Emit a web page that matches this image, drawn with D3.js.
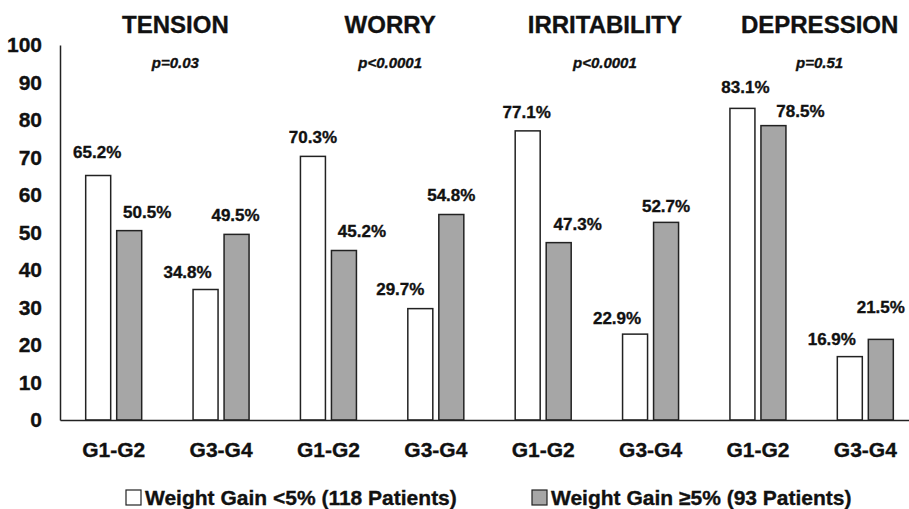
<!DOCTYPE html>
<html lang="en">
<head>
    <meta charset="UTF-8">
    <title>Weight gain vs symptoms</title>
    <script src="https://d3js.org/d3.v7.min.js"></script>
    <style>
        body { margin: 0; background: #fff; }
        svg { font-family: "Liberation Sans", Arial, sans-serif; font-weight: bold; }
        svg text { stroke: #111; stroke-width: 0.35; }
        .domain { stroke: #222; stroke-width: 1.5; }
    </style>
</head>
<body>
<svg width="909" height="509"></svg>
<script>
    // data
    const symptoms = ["TENSION", "WORRY", "IRRITABILITY", "DEPRESSION"];
    const grades = ["G1-G2", "G3-G4"];
    const pValues = ["p=0.03", "p<0.0001", "p<0.0001", "p=0.51"];
    const seriesNames = ["Weight Gain <5% (118 Patients)", "Weight Gain \u22655% (93 Patients)"];
    // order: TENSION G1-G2, G3-G4, WORRY G1-G2, G3-G4, ...
    const gainUnder5 = [65.2, 34.8, 70.3, 29.7, 77.1, 22.9, 83.1, 16.9];
    const gainOver5 = [50.5, 49.5, 45.2, 54.8, 47.3, 52.7, 78.5, 21.5];
    const yTicks = [0, 10, 20, 30, 40, 50, 60, 70, 80, 90, 100];

    const fills = ["#ffffff", "#a6a6a6"];
    // hand-placed value labels in the original (px, relative to bar centre / top)
    const labelNudge = [
        [[-1, -23], [-18, -17], [0, -19], [-20, -20], [-1, -19], [-18, -16], [3, -21], [-18, -18]],
        [[18, -19], [-1, -19], [18, -19], [0, -19], [19, -19], [0, -16], [27, -15], [0, -32]]
    ];

    const svg = d3.select("svg");

    const keys = [];
    symptoms.forEach(s => grades.forEach(g => keys.push(s + "|" + g)));

    const x = d3.scaleBand().domain(keys).range([60, 919]).padding(0);
    const xInner = d3.scaleBand().domain([0, 1]).range([0, 56]).paddingInner(0.194);
    const y = d3.scaleLinear().domain([0, 100]).range([420, 45]);

    const series = [gainUnder5, gainOver5];

    // bars
    series.forEach((vals, si) => {
        const g = svg.append("g");
        g.selectAll("rect")
            .data(vals)
            .enter()
            .append("rect")
            .attr("x", (d, i) => x(keys[i]) + x.bandwidth() / 2 - 28 + xInner(si))
            .attr("y", d => y(d))
            .attr("width", xInner.bandwidth())
            .attr("height", d => y(0) - y(d))
            .attr("fill", fills[si])
            .attr("stroke", "#222")
            .attr("stroke-width", 1.5);

        g.selectAll("text")
            .data(vals)
            .enter()
            .append("text")
            .attr("x", (d, i) => x(keys[i]) + x.bandwidth() / 2 - 28 + xInner(si) + xInner.bandwidth() / 2 + labelNudge[si][i][0])
            .attr("y", (d, i) => y(d) + labelNudge[si][i][1])
            .attr("dy", "0.35em")
            .attr("text-anchor", "middle")
            .attr("font-size", 17)
            .attr("fill", "#111")
            .text(d => d.toFixed(1) + "%");
    });

    // axes
    const yAxis = svg.append("g")
        .attr("transform", "translate(60,0)")
        .call(d3.axisLeft(y).tickValues(yTicks).tickSize(0).tickPadding(18));
    yAxis.selectAll("text").attr("font-size", 21).attr("fill", "#111").attr("font-family", "Liberation Sans, Arial").attr("font-weight", "bold");

    const xAxis = svg.append("g")
        .attr("transform", "translate(0,420)")
        .call(d3.axisBottom(x).tickSize(0).tickPadding(22).tickFormat(k => k.split("|")[1]));
    xAxis.selectAll("text").attr("font-size", 21).attr("fill", "#111").attr("font-weight", "bold").attr("font-family", "Liberation Sans, Arial");

    // titles and p-values
    symptoms.forEach((s, i) => {
        const cx = (x(keys[i * 2]) + x(keys[i * 2 + 1]) + x.bandwidth()) / 2 + 8;
        svg.append("text")
            .attr("x", cx).attr("y", 25).attr("dy", "0.35em")
            .attr("text-anchor", "middle")
            .attr("font-size", 24)
            .attr("fill", "#111")
            .text(s);
        svg.append("text")
            .attr("x", cx).attr("y", 63).attr("dy", "0.35em")
            .attr("text-anchor", "middle")
            .attr("font-size", 15)
            .attr("font-style", "italic")
            .attr("fill", "#111")
            .text(pValues[i]);
    });

    // legend
    const legendX = [126, 532];
    seriesNames.forEach((name, i) => {
        const lg = svg.append("g").attr("transform", `translate(${legendX[i]},498)`);
        lg.append("rect")
            .attr("x", 0).attr("y", -8)
            .attr("width", 15).attr("height", 15)
            .attr("fill", fills[i])
            .attr("stroke", "#222")
            .attr("stroke-width", 1.2);
        lg.append("text")
            .attr("x", 19).attr("y", 0).attr("dy", "0.35em")
            .attr("font-size", 21)
            .attr("fill", "#111")
            .text(name);
    });
</script>
</body>
</html>
